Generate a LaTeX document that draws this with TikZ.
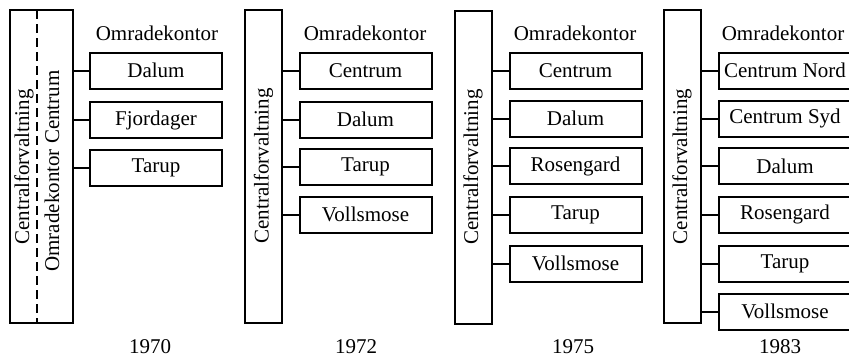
\documentclass[tikz,border=0pt]{standalone}
\usepackage{fontspec}
\setmainfont{Liberation Serif}
\begin{document}
\begin{tikzpicture}[x=1pt,y=-1pt,
  every node/.style={font=\fontsize{21}{25}\selectfont},
  mainbox/.style={draw, line width=2pt, rotate=90, minimum width=313pt, minimum height=37pt, inner sep=0pt},
  office/.style={draw, line width=2pt, minimum width=132pt, minimum height=36pt, inner sep=0pt},
  link/.style={line width=2pt},
  lbl/.style={inner sep=0pt}]
\useasboundingbox (0,0) rectangle (849,357);

% ---------- 1970 ----------
\node[draw, line width=2pt, minimum width=63pt, minimum height=313pt, inner sep=0pt] (m1) at (41.5,166.5) {};
\coordinate (d1t) at (37,10);
\coordinate (d1b) at (37,323);
\draw[line width=1.6pt, dash pattern=on 9pt off 5pt] (d1t) -- (d1b);
\node[lbl, rotate=90] (t1a) at (24,167) {Centralforvaltning};
\node[lbl, rotate=90] (t1b) at (52,171) {Omradekontor Centrum};
\node[lbl] (h1) at (157,33) {Omradekontor};
\node[office] (a1) at (156,70.5) {Dalum};
\node[office] (a2) at (156,120) {Fjordager};
\node[office] (a3) at (156,167.5) {Tarup};
\foreach \c in {a1,a2,a3} \draw[link] (m1.east |- \c.west) -- (\c.west);
\node[lbl] (y1) at (150,347) {1970};

% ---------- 1972 ----------
\node[mainbox] (m2) at (263.5,166) {Centralforvaltning};
\node[lbl] (h2) at (365,33) {Omradekontor};
\node[office] (b1) at (365.5,70.5) {Centrum};
\node[office] (b2) at (365.5,119.5) {Dalum};
\node[office] (b3) at (365.5,166.5) {Tarup};
\node[office] (b4) at (365.5,214.5) {Vollsmose};
\foreach \c in {b1,b2,b3,b4} \draw[link] (m2.south |- \c.west) -- (\c.west);
\node[lbl] (y2) at (356,347) {1972};

% ---------- 1975 ----------
\node[mainbox] (m3) at (473,167) {Centralforvaltning};
\node[lbl] (h3) at (575,33) {Omradekontor};
\node[office] (c1) at (575.5,70.5) {Centrum};
\node[office] (c2) at (575.5,118.5) {Dalum};
\node[office] (c3) at (575.5,166) {Rosengard};
\node[office] (c4) at (575.5,214.5) {Tarup};
\node[office] (c5) at (575.5,263.5) {Vollsmose};
\foreach \c in {c1,c2,c3,c4,c5} \draw[link] (m3.south |- \c.west) -- (\c.west);
\node[lbl] (y3) at (573,347) {1975};

% ---------- 1983 ----------
\node[mainbox] (m4) at (682,166.5) {Centralforvaltning};
\node[lbl] (h4) at (783,33) {Omradekontor};
\node[office] (e1) at (785,70.5) {Centrum Nord};
\node[office] (e2) at (785,118.5) {Centrum Syd};
\node[office] (e3) at (785,166) {Dalum};
\node[office] (e4) at (785,214.5) {Rosengard};
\node[office] (e5) at (785,263.5) {Tarup};
\node[office] (e6) at (785,311.5) {Vollsmose};
\foreach \c in {e1,e2,e3,e4,e5,e6} \draw[link] (m4.south |- \c.west) -- (\c.west);
\node[lbl] (y4) at (780,347) {1983};
\end{tikzpicture}
\end{document}
